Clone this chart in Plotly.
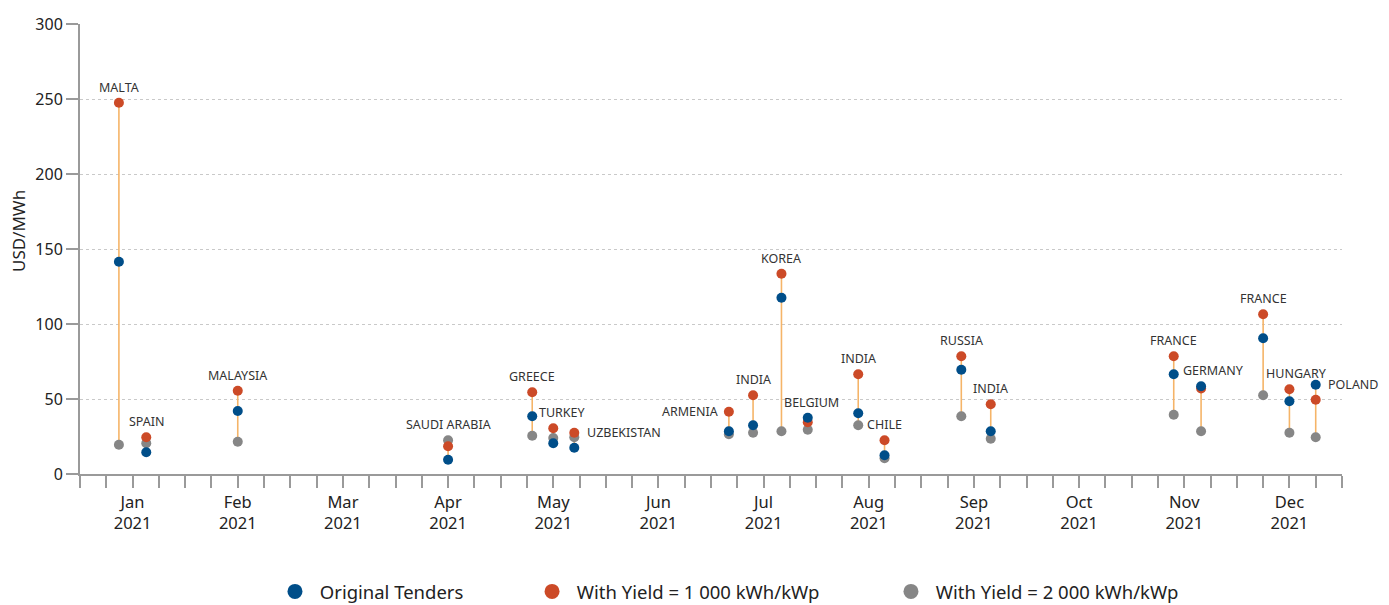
import plotly.graph_objects as go

# ---- data -------------------------------------------------------------
countries = ["MALTA", "SPAIN", "MALAYSIA", "SAUDI ARABIA", "GREECE", "TURKEY",
             "UZBEKISTAN", "ARMENIA", "INDIA", "KOREA", "BELGIUM", "INDIA",
             "CHILE", "RUSSIA", "INDIA", "FRANCE", "GERMANY", "FRANCE",
             "HUNGARY", "POLAND"]
# position along the axis in months (0 = Jan 2021, 11 = Dec 2021)
month_pos = [-0.13, 0.13, 1.0, 3.0, 3.8, 4.0, 4.2, 5.67, 5.9, 6.17, 6.42, 6.9,
             7.15, 7.88, 8.16, 9.9, 10.16, 10.75, 11.0, 11.25]
original = [141.5, 14.5, 42, 9.5, 38.5, 20.5, 17.5, 28.5, 32.5, 117.5, 37.5, 40.5,
            12.5, 69.5, 28.5, 66.5, 58.5, 90.5, 48.5, 59.5]
yield_1000 = [247.5, 24.5, 55.5, 18.5, 54.5, 30.5, 27.5, 41.5, 52.5, 133.5, 34.5, 66.5,
              22.5, 78.5, 46.5, 78.5, 57, 106.5, 56.5, 49.5]
yield_2000 = [19.5, 20.5, 21.5, 22.5, 25.5, 24, 24.5, 26.5, 27.5, 28.5, 29.5, 32.5,
              10.5, 38.5, 23.5, 39.5, 28.5, 52.5, 27.5, 24.5]
month_names = ["Jan", "Feb", "Mar", "Apr", "May", "Jun", "Jul", "Aug", "Sep",
               "Oct", "Nov", "Dec"]
year_label = "2021"
y_ticks = [0, 50, 100, 150, 200, 250, 300]
y_title = "USD/MWh"

series_names = ["Original Tenders", "With Yield = 1 000 kWh/kWp",
                "With Yield = 2 000 kWh/kWp"]

# ---- styles -------------------------------------------------------------
BLUE = "#004E89"
ORANGE = "#CC4A27"
GRAY = "#868686"
STEM = "#F5B468"
FONT = "Noto Sans"
TXT = "#222222"

# label placement style: (mode, xshift)
label_style = {
    1: ("top", 1), 5: ("top", 9), 6: ("right", 11), 7: ("left", -9),
    10: ("top", 4), 16: ("top", 12), 18: ("top", 7), 19: ("right", 10),
}

fig = go.Figure()

# stems
sx, sy = [], []
for x, a, b, c in zip(month_pos, original, yield_1000, yield_2000):
    sx += [x, x, None]
    sy += [min(a, b, c), max(a, b, c), None]
fig.add_trace(go.Scatter(x=sx, y=sy, mode="lines", line=dict(color=STEM, width=1.6),
                         hoverinfo="skip", showlegend=False))

for vals, col, name in [(yield_2000, GRAY, series_names[2]),
                        (yield_1000, ORANGE, series_names[1]),
                        (original, BLUE, series_names[0])]:
    fig.add_trace(go.Scatter(x=month_pos, y=vals, mode="markers", name=name,
                             marker=dict(color=col, size=10), showlegend=False))

# legend entries (larger symbols), each in its own legend
for i, (name, col) in enumerate(zip(series_names, [BLUE, ORANGE, GRAY])):
    fig.add_trace(go.Scatter(x=[None], y=[None], mode="markers",
                             name="\u00a0" + name,
                             marker=dict(color=col, size=15), showlegend=True,
                             legend="legend" if i == 0 else f"legend{i+1}"))

# country labels
for i, name in enumerate(countries):
    top = max(original[i], yield_1000[i], yield_2000[i])
    mode, xs = label_style.get(i, ("top", 0))
    if mode == "top":
        fig.add_annotation(x=month_pos[i], y=top, text=name, showarrow=False,
                           xanchor="center", yanchor="bottom", xshift=xs, yshift=5,
                           font=dict(family=FONT, size=12.5, color="#333333"))
    else:
        fig.add_annotation(x=month_pos[i], y=top, text=name, showarrow=False,
                           xanchor="left" if mode == "right" else "right",
                           yanchor="middle", xshift=xs,
                           font=dict(family=FONT, size=12.5, color="#333333"))

# y-axis title
fig.add_annotation(xref="paper", yref="paper", x=-0.0483, y=0.54, text=y_title,
                   textangle=-90, showarrow=False, xanchor="center", yanchor="middle",
                   font=dict(family=FONT, size=17, color=TXT))

# x ticks every quarter month, labels on month centres
tickvals, ticktext = [], []
for k in range(49):
    v = -0.5 + 0.25 * k
    tickvals.append(v)
    if abs(v - round(v)) < 1e-9 and 0 <= round(v) < 12:
        ticktext.append(f"{month_names[int(round(v))]}<br>{year_label}")
    else:
        ticktext.append("")

fig.update_xaxes(range=[-0.5, 11.5], tickmode="array", tickvals=tickvals,
                 ticktext=ticktext, ticks="outside", ticklen=12, tickwidth=1.5,
                 tickcolor="#9a9a9a", showline=True, linecolor="#9a9a9a",
                 linewidth=2, showgrid=False, zeroline=False, automargin=False,
                 tickfont=dict(family=FONT, size=16.5, color=TXT))
fig.update_yaxes(range=[0, 300], tickmode="array", tickvals=y_ticks,
                 ticks="outside", ticklen=12, tickwidth=1.5, tickcolor="#9a9a9a",
                 showline=True, linecolor="#9a9a9a", linewidth=2, automargin=False,
                 showgrid=True, gridcolor="#c9c9c9", gridwidth=1, griddash="3px,3px",
                 zeroline=False, tickfont=dict(family=FONT, size=16, color=TXT))

leg_common = dict(orientation="h", yanchor="middle", xanchor="left",
                  y=-0.262, font=dict(family=FONT, size=18.5, color=TXT),
                  bgcolor="rgba(0,0,0,0)")
# the page body has an 8px margin; the figure is sized so the plot area
# lands at the intended place in the 1389x605 window
fig.update_layout(
    width=1381, height=625,
    margin=dict(l=72, r=47, t=16, b=159),
    plot_bgcolor="white", paper_bgcolor="white",
    legend=dict(x=0.1545, **leg_common),
    legend2=dict(x=0.3582, **leg_common),
    legend3=dict(x=0.6426, **leg_common),
    font=dict(family=FONT, color=TXT),
)

fig.write_html("out.html")
